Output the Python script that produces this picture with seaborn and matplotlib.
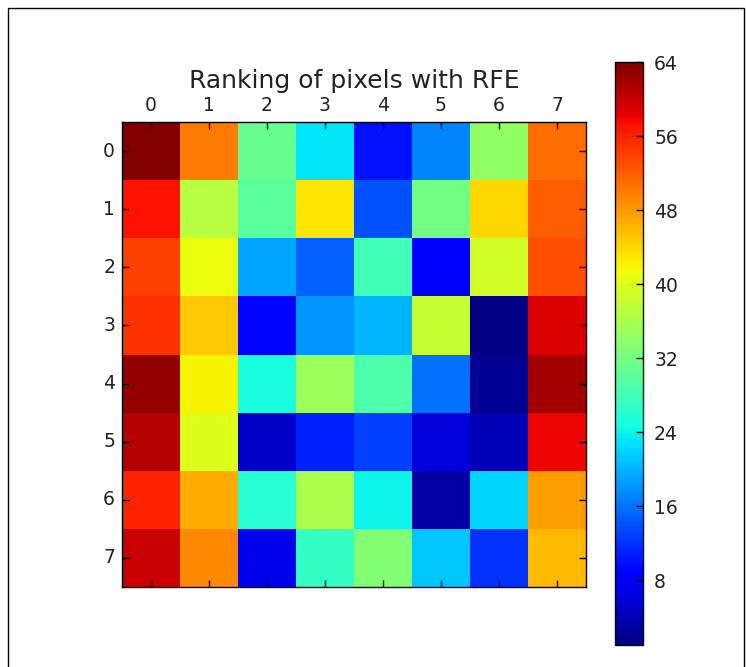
import numpy as np
import pandas as pd
import matplotlib
matplotlib.use("Agg")
import matplotlib.pyplot as plt
import seaborn as sns
from matplotlib.patches import Rectangle

rows = [0, 1, 2, 3, 4, 5, 6, 7]
cols = [0, 1, 2, 3, 4, 5, 6, 7]
rank_row0 = [64, 50, 31, 23, 10, 17, 34, 51]
rank_row1 = [57, 37, 30, 43, 14, 32, 44, 52]
rank_row2 = [54, 41, 19, 15, 28, 8, 39, 53]
rank_row3 = [55, 45, 9, 18, 20, 38, 1, 59]
rank_row4 = [63, 42, 25, 35, 29, 16, 2, 62]
rank_row5 = [61, 40, 5, 11, 13, 6, 4, 58]
rank_row6 = [56, 47, 26, 36, 24, 3, 22, 48]
rank_row7 = [60, 49, 7, 27, 33, 21, 12, 46]
cbar_ticks = [8, 16, 24, 32, 40, 48, 56, 64]
title = "Ranking of pixels with RFE"

ranking = pd.DataFrame(
    [rank_row0, rank_row1, rank_row2, rank_row3,
     rank_row4, rank_row5, rank_row6, rank_row7],
    index=rows, columns=cols)

fig = plt.figure(figsize=(7.46, 6.67), dpi=100)
ax = fig.add_axes([0.1635, 0.12, 0.622, 0.697])
cax = fig.add_axes([0.8244, 0.033, 0.0375, 0.874])

sns.heatmap(ranking, ax=ax, cbar_ax=cax, cmap="jet", vmin=1, vmax=64,
            cbar_kws={"ticks": cbar_ticks}, square=False)

for s in ax.spines.values():
    s.set_visible(True)
    s.set_color("black")
    s.set_linewidth(1.0)

ax.xaxis.tick_top()
ax.set_xticks(np.arange(len(cols)) + 0.5)
ax.set_xticklabels([str(c) for c in cols], rotation=0)
ax.set_yticks(np.arange(len(rows)) + 0.5)
ax.set_yticklabels([str(r) for r in rows], rotation=0)
ax.tick_params(axis="both", direction="in", length=5, width=1,
               labelsize=13.5, colors="black", labelcolor="#222222",
               top=True, bottom=True, left=True, right=True,
               labeltop=True, labelbottom=False, pad=5)
ax.set_xlabel("")
ax.set_ylabel("")
ax.set_title(title, fontsize=18, color="#222222", y=1.088, pad=0,
             verticalalignment="center")

cb = ax.collections[0].colorbar
cb.outline.set_visible(True)
cb.outline.set_linewidth(1.0)
cb.outline.set_edgecolor("black")
cax.tick_params(direction="in", length=5, width=1, labelsize=13.5,
                labelcolor="#222222", pad=8)

fig.patches.append(Rectangle((8 / 746, -0.1), (744 - 8) / 746, 1.1 - 8 / 667,
                             transform=fig.transFigure, fill=False,
                             edgecolor="black", linewidth=1.0))

fig.savefig("out.png", dpi=100)
